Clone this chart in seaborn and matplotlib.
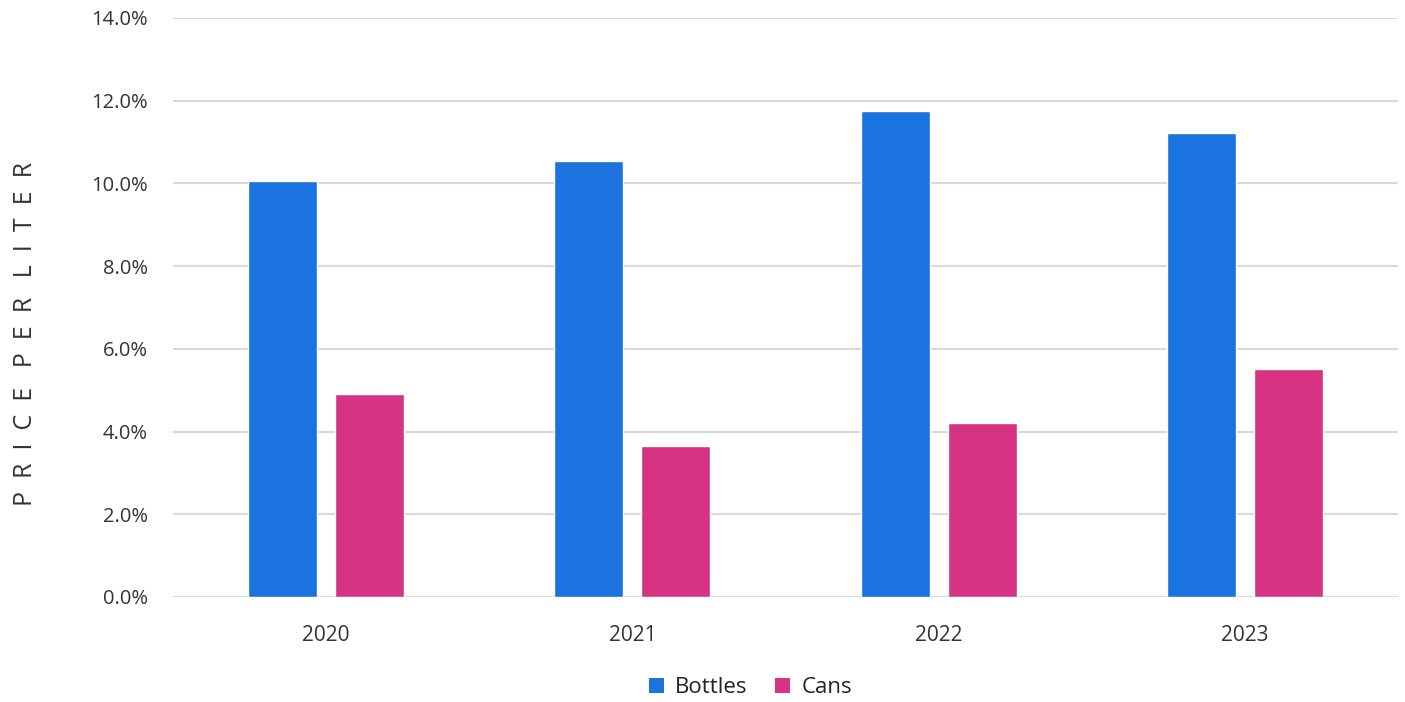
import matplotlib
matplotlib.use("Agg")
import matplotlib.pyplot as plt
import seaborn as sns
import pandas as pd
from matplotlib.ticker import FuncFormatter, MultipleLocator
from matplotlib.patches import Patch

years = ["2020", "2021", "2022", "2023"]
series_names = ["Bottles", "Cans"]
bottles = [10.06, 10.54, 11.75, 11.22]
cans = [4.90, 3.65, 4.21, 5.51]
colors = ["#1A73DE", "#D63482"]
y_title = "PRICE PER LITER"

df = pd.DataFrame({
    "year": years * 2,
    "series": [series_names[0]] * 4 + [series_names[1]] * 4,
    "value": bottles + cans,
})

sns.set_theme(style="white")
plt.rcParams["font.family"] = ["Open Sans", "DejaVu Sans"]

fig = plt.figure(figsize=(14.05, 7.02), dpi=100)
ax = fig.add_axes([0.1231, 0.1496, 0.8719, 0.8248])

sns.barplot(data=df, x="year", y="value", hue="series", order=years,
            hue_order=series_names, palette=colors, width=0.568, gap=0.208,
            saturation=1, ax=ax, legend=False, zorder=3)

ax.set_xlim(-0.5, 3.5)
ax.set_ylim(0, 14)
ax.yaxis.set_major_locator(MultipleLocator(2))
ax.yaxis.set_major_formatter(FuncFormatter(lambda v, p: f"{v:.1f}%"))
ax.grid(axis="y", color="#D9D9D9", linewidth=1.5, zorder=0)
ax.grid(axis="x", visible=False)
for s in ax.spines.values():
    s.set_visible(False)
ax.tick_params(axis="y", length=0, pad=18, labelsize=14.5, labelcolor="#333333")
ax.tick_params(axis="x", length=0, pad=20, labelsize=15, labelcolor="#333333")
ax.set_xlabel("")
spaced = "   ".join("  ".join(w) for w in y_title.split(" "))
ax.set_ylabel(spaced, fontsize=18, color="#333333")
ax.yaxis.set_label_coords(-0.110, 0.454)

handles = [Patch(facecolor=c, edgecolor="none") for c in colors]
fig.legend(handles, series_names, loc="center", bbox_to_anchor=(0.534, 0.02),
           ncol=2, frameon=False, fontsize=16, handlelength=0.7, handleheight=0.7,
           handletextpad=0.5, columnspacing=1.2, labelcolor="#222222")

fig.savefig("out.png", dpi=100)
